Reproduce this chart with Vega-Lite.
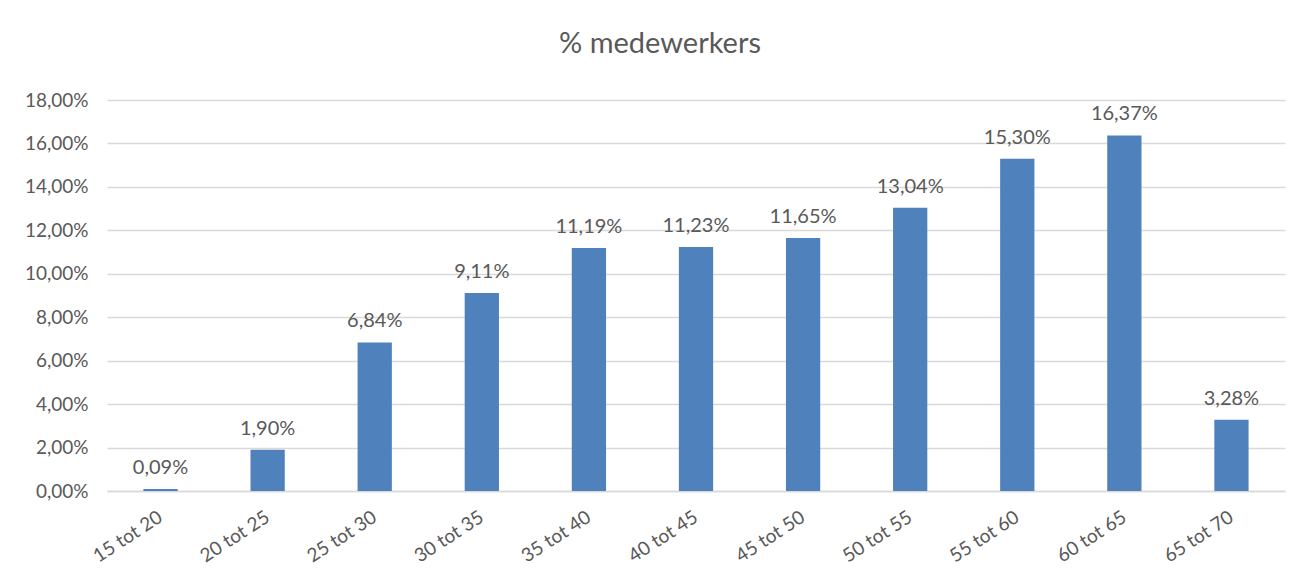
{
  "$schema": "https://vega.github.io/schema/vega-lite/v6.json",
  "width": 1178,
  "height": 391,
  "autosize": "none",
  "padding": {"left": 107, "top": 100, "right": 18, "bottom": 85},
  "background": "white",
  "config": {
    "locale": {"number": {"decimal": ",", "thousands": ".", "grouping": [3], "currency": ["€", ""]}},
    "view": {"stroke": null},
    "font": "Lato"
  },
  "title": {
    "text": "% medewerkers",
    "anchor": "middle",
    "frame": "group",
    "dx": -36,
    "offset": 32,
    "fontSize": 29,
    "fontWeight": "normal",
    "color": "#595959",
    "font": "Lato"
  },
  "data": {
    "values": [
      {"groep": "15 tot 20", "pct": 0.0009},
      {"groep": "20 tot 25", "pct": 0.019},
      {"groep": "25 tot 30", "pct": 0.0684},
      {"groep": "30 tot 35", "pct": 0.0911},
      {"groep": "35 tot 40", "pct": 0.1119},
      {"groep": "40 tot 45", "pct": 0.1123},
      {"groep": "45 tot 50", "pct": 0.1165},
      {"groep": "50 tot 55", "pct": 0.1304},
      {"groep": "55 tot 60", "pct": 0.153},
      {"groep": "60 tot 65", "pct": 0.1637},
      {"groep": "65 tot 70", "pct": 0.0328}
    ]
  },
  "encoding": {
    "x": {
      "field": "groep",
      "type": "nominal",
      "sort": null,
      "title": null,
      "scale": {"paddingInner": 0.68, "paddingOuter": 0.34},
      "axis": {
        "labelAngle": -33,
        "labelAlign": "right",
        "labelBaseline": "middle",
        "labelFontSize": 19,
        "labelColor": "#595959",
        "labelPadding": 24,
        "ticks": false,
        "domainColor": "#d9d9d9",
        "domainWidth": 1.5
      }
    },
    "y": {
      "field": "pct",
      "type": "quantitative",
      "title": null,
      "scale": {"domain": [0, 0.18]},
      "axis": {
        "format": ".2%",
        "values": [0, 0.02, 0.04, 0.06, 0.08, 0.1, 0.12, 0.14, 0.16, 0.18],
        "labelFontSize": 19,
        "labelColor": "#595959",
        "labelPadding": 19,
        "ticks": false,
        "domain": false,
        "gridColor": "#d9d9d9",
        "gridWidth": 1.5
      }
    }
  },
  "layer": [
    {"mark": {"type": "bar", "color": "#4f81bd"}},
    {
      "mark": {"type": "text", "baseline": "alphabetic", "dy": -15, "fontSize": 20, "color": "#595959"},
      "encoding": {"text": {"field": "pct", "type": "quantitative", "format": ".2%"}}
    }
  ]
}
